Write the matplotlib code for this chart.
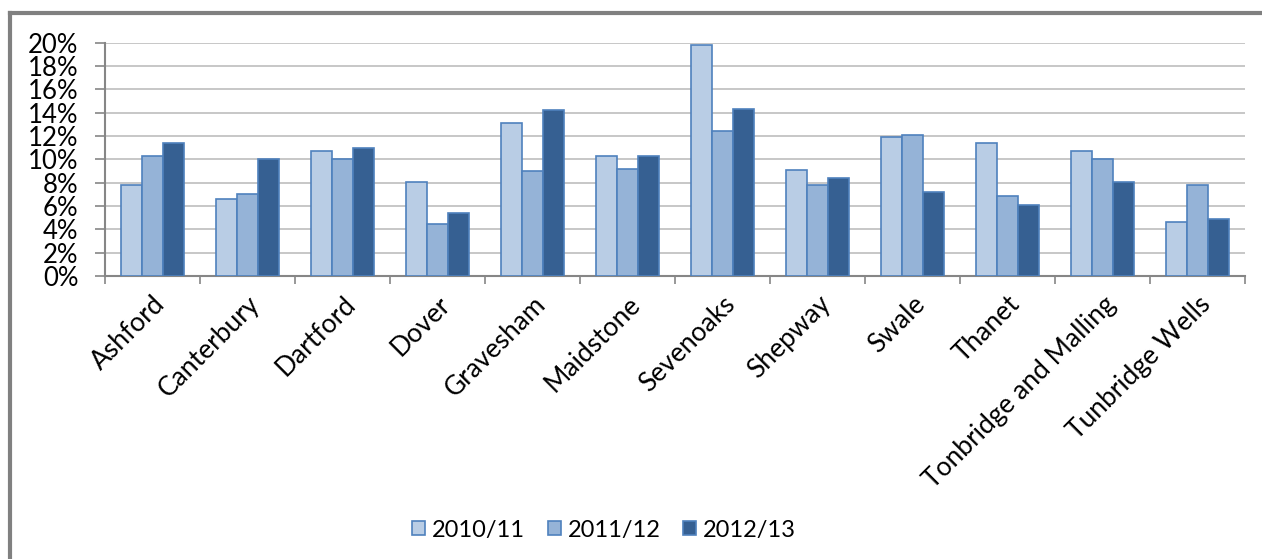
import numpy as np
import matplotlib.pyplot as plt
from matplotlib.lines import Line2D
from matplotlib.ticker import PercentFormatter

districts = ["Ashford", "Canterbury", "Dartford", "Dover", "Gravesham", "Maidstone",
             "Sevenoaks", "Shepway", "Swale", "Thanet", "Tonbridge and Malling",
             "Tunbridge Wells"]
years = ["2010/11", "2011/12", "2012/13"]
v2010 = [7.8, 6.6, 10.7, 8.1, 13.1, 10.3, 19.8, 9.1, 11.9, 11.4, 10.7, 4.6]
v2011 = [10.3, 7.0, 10.0, 4.5, 9.0, 9.2, 12.4, 7.8, 12.1, 6.9, 10.0, 7.8]
v2012 = [11.4, 10.0, 11.0, 5.4, 14.2, 10.3, 14.3, 8.4, 7.2, 6.1, 8.1, 4.9]
colors = ["#B9CDE5", "#95B3D7", "#366092"]

plt.rcParams["font.family"] = ["Lato", "DejaVu Sans"]

fig = plt.figure(figsize=(12.62, 5.59), dpi=100)
ax = fig.add_axes([105 / 1262, 1 - 276 / 559, 1140 / 1262, (276 - 42.7) / 559])

x = np.arange(len(districts))
w = 0.22
for i, (vals, c, lab) in enumerate(zip([v2010, v2011, v2012], colors, years)):
    ax.bar(x + (i - 1) * w, vals, w, color=c, edgecolor="#4F81BD", linewidth=1.2,
           label=lab, zorder=3)

ax.set_xlim(-0.5, len(districts) - 0.5)
ax.set_ylim(0, 20)
ax.set_yticks(np.arange(0, 21, 2))
ax.yaxis.set_major_formatter(PercentFormatter(decimals=0))
ax.grid(axis="y", color="#BEBEBE", linewidth=1.2, zorder=0)

# category labels at centres, tick marks at boundaries
ax.set_xticks(x)
ax.set_xticklabels(districts, rotation=45, ha="right", rotation_mode="anchor", fontsize=19)
ax.tick_params(axis="x", which="major", length=0, pad=11)
ax.set_xticks(np.arange(-0.5, len(districts), 1), minor=True)
ax.tick_params(axis="x", which="minor", length=6, width=1.2, color="#868686")
ax.tick_params(axis="y", length=7, width=1.2, color="#868686", labelsize=18.5, pad=12)

for s in ["top", "right"]:
    ax.spines[s].set_visible(False)
for s in ["left", "bottom"]:
    ax.spines[s].set_color("#868686")
    ax.spines[s].set_linewidth(1.5)

fig.legend(loc="center", bbox_to_anchor=(604 / 1262, 1 - 530 / 559), ncol=3, frameon=False,
           fontsize=17, handlelength=0.55, handleheight=0.55, handletextpad=0.3,
           columnspacing=0.95)

# outer frame (top and left)
fig.add_artist(Line2D([10 / 1262, 1], [1 - 13 / 559] * 2, color="#808080", linewidth=3,
                      transform=fig.transFigure))
fig.add_artist(Line2D([10 / 1262] * 2, [0, 1 - 13 / 559], color="#808080", linewidth=3,
                      transform=fig.transFigure))

fig.savefig("out.png", dpi=100)
